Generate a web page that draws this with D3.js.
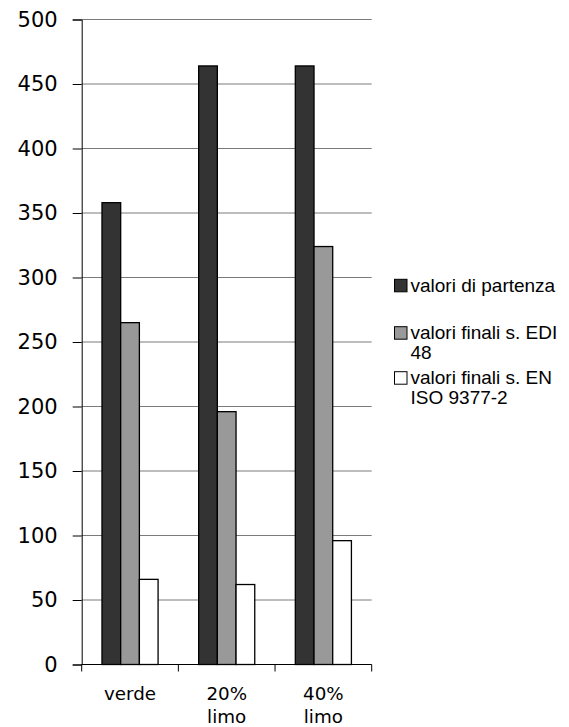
<!DOCTYPE html>
<html>
<head>
<meta charset="utf-8">
<script src="https://cdn.jsdelivr.net/npm/d3@7"></script>
<style>
  html, body { margin: 0; padding: 0; background: #fff; }
  svg { display: block; }
</style>
</head>
<body>
<svg id="chart" width="569" height="727"></svg>
<script>
const categories = [["verde"], ["20%", "limo"], ["40%", "limo"]];
const seriesNames = [["valori di partenza"], ["valori finali s. EDI", "48"], ["valori finali s. EN", "ISO 9377-2"]];
const seriesColors = ["#333333", "#999999", "#ffffff"];
const valoriPartenza = [358, 464, 464];
const valoriEDI = [265, 196, 324];
const valoriEN = [66, 62, 96];
const yTicks = [0, 50, 100, 150, 200, 250, 300, 350, 400, 450, 500];

const series = [valoriPartenza, valoriEDI, valoriEN];
const svg = d3.select("#chart");

const plotLeft = 81.7, plotRight = 371.7, plotTop = 19.5, plotBottom = 664.5;

const x = d3.scaleBand().domain(d3.range(categories.length)).range([plotLeft, plotRight]).paddingInner(0).paddingOuter(0);
const y = d3.scaleLinear().domain([0, 500]).range([plotBottom, plotTop]);
const barW = 18.7;
const groupW = barW * series.length;

// gridlines
svg.append("g").selectAll("line").data(yTicks.filter(d => d > 0)).join("line")
  .attr("x1", plotLeft).attr("x2", plotRight)
  .attr("y1", d => y(d)).attr("y2", d => y(d))
  .attr("stroke", "#7a7a7a").attr("stroke-width", 1);

// bars
series.forEach((vals, si) => {
  svg.append("g").selectAll("rect").data(vals).join("rect")
    .attr("x", (d, i) => x(i) + (x.bandwidth() - groupW) / 2 + si * barW)
    .attr("y", d => y(d))
    .attr("width", barW)
    .attr("height", d => y(0) - y(d))
    .attr("fill", seriesColors[si])
    .attr("stroke", "#000").attr("stroke-width", 1.3);
});

// y axis
const yAxis = d3.axisLeft(y).tickValues(yTicks).tickSize(9).tickPadding(15);
const gy = svg.append("g").attr("transform", `translate(${plotLeft},0)`).call(yAxis);
gy.select(".domain").attr("stroke", "#000");
gy.selectAll(".tick line").attr("stroke", "#000");
gy.selectAll(".tick text")
  .attr("font-family", "DejaVu Sans, Verdana, sans-serif")
  .attr("font-size", 21).attr("fill", "#000");

// x axis baseline and ticks at category boundaries
svg.append("line").attr("x1", plotLeft).attr("x2", plotRight).attr("y1", plotBottom).attr("y2", plotBottom)
  .attr("stroke", "#000").attr("stroke-width", 1);
const bounds = d3.range(categories.length + 1).map(i => plotLeft + i * x.bandwidth());
svg.append("g").selectAll("line").data(bounds).join("line")
  .attr("x1", d => d).attr("x2", d => d).attr("y1", plotBottom).attr("y2", plotBottom + 7)
  .attr("stroke", "#000");

// x labels
const xl = svg.append("g").selectAll("text").data(categories).join("text")
  .attr("x", (d, i) => x(i) + x.bandwidth() / 2)
  .attr("y", 700)
  .attr("text-anchor", "middle")
  .attr("font-family", "DejaVu Sans, Verdana, sans-serif")
  .attr("font-size", 18.3).attr("fill", "#000");
xl.each(function(lines) {
  const t = d3.select(this);
  lines.forEach((ln, k) => {
    t.append("tspan").attr("x", t.attr("x")).attr("dy", k === 0 ? 0 : 23).text(ln);
  });
});

// legend
const legendY = [279.3, 326.7, 371.7];
const lg = svg.append("g");
seriesNames.forEach((lines, si) => {
  lg.append("rect").attr("x", 394.5).attr("y", legendY[si]).attr("width", 12.5).attr("height", 12.5)
    .attr("fill", seriesColors[si]).attr("stroke", "#000").attr("stroke-width", 1);
  const t = lg.append("text").attr("x", 410.5).attr("y", legendY[si] + 12.5)
    .attr("font-family", "Liberation Sans, Arial, sans-serif")
    .attr("font-size", 19).attr("fill", "#000");
  lines.forEach((ln, k) => {
    t.append("tspan").attr("x", 410.5).attr("dy", k === 0 ? 0 : 20).text(ln);
  });
});
</script>
</body>
</html>
